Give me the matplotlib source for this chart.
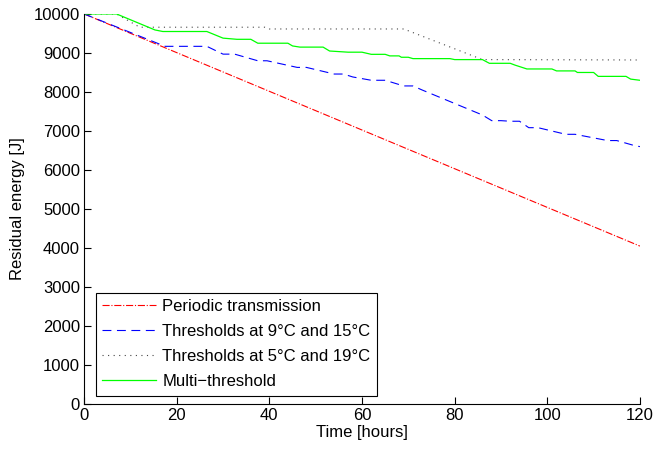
import matplotlib
matplotlib.use("Agg")
import matplotlib.pyplot as plt

plt.rcParams['font.family'] = ['Liberation Sans', 'DejaVu Sans']

# periodic transmission: straight decay
periodic_t = [0, 120]
periodic_e = [10000, 4050]

# thresholds at 9C and 15C
th9_t = [0, 17.5, 26.5, 30, 32.5, 37.5, 39.5, 46, 48, 54, 56, 58, 62, 65, 69, 71, 73,
         86, 88, 90, 92, 94, 96, 98, 104, 106, 113, 115, 119, 120]
th9_e = [10000, 9170, 9170, 8970, 8970, 8800, 8800, 8630, 8630, 8460, 8460, 8385, 8300, 8300, 8155, 8155, 8050,
         7410, 7265, 7265, 7250, 7250, 7085, 7085, 6915, 6915, 6755, 6755, 6620, 6600]

# thresholds at 5C and 19C
th5_t = [0, 7, 12, 39, 40, 69, 86, 120]
th5_e = [10000, 10000, 9660, 9660, 9615, 9615, 8830, 8820]

# multi-threshold
multi_t = [0, 7, 15.3, 17, 26.5, 30, 33, 36, 37.5, 44, 45, 46.6, 51.6, 53, 57, 60, 62, 65, 66, 68, 68.5,
           70, 71, 79, 80, 86, 87.5, 92, 93, 95.6, 101, 102, 106, 106.5, 110, 111, 117, 118, 120]
multi_e = [10000, 10000, 9590, 9550, 9550, 9380, 9350, 9350, 9250, 9250, 9180, 9150, 9150, 9050, 9020, 9020, 8965, 8965, 8925, 8925, 8890,
           8890, 8855, 8855, 8830, 8830, 8735, 8735, 8690, 8590, 8590, 8540, 8540, 8500, 8500, 8400, 8400, 8330, 8300]

fig = plt.figure(figsize=(6.57, 4.5), dpi=100)
ax = fig.add_axes([0.128, 0.102, 0.846, 0.867])

ax.plot(periodic_t, periodic_e, '-.', color='red', lw=0.8, label='Periodic transmission')
ax.plot(th9_t, th9_e, '--', color='blue', lw=0.8, dashes=(8, 5), label='Thresholds at 9°C and 15°C')
ax.plot(th5_t, th5_e, ':', color='#444444', lw=0.8, dashes=(1, 4), label='Thresholds at 5°C and 19°C')
ax.plot(multi_t, multi_e, '-', color='#00ff00', lw=0.9, label='Multi\u2212threshold')

ax.set_xlim(0, 120)
ax.set_ylim(0, 10000)
ax.set_xticks(range(0, 121, 20))
ax.set_yticks(range(0, 10001, 1000))
ax.spines['top'].set_visible(False)
ax.spines['right'].set_visible(False)
ax.tick_params(direction='in', length=5, labelsize=12, pad=3)
ax.set_xlabel('Time [hours]', fontsize=12, labelpad=1)
ax.set_ylabel('Residual energy [J]', fontsize=12, labelpad=6)

leg = ax.legend(loc='lower left', bbox_to_anchor=(0.021, 0.021), borderaxespad=0,
                fontsize=12, handlelength=3.2, handletextpad=0.4, labelspacing=0.6,
                fancybox=False, edgecolor='black', framealpha=1)
leg.get_frame().set_linewidth(0.8)

fig.savefig('out.png', dpi=100)
